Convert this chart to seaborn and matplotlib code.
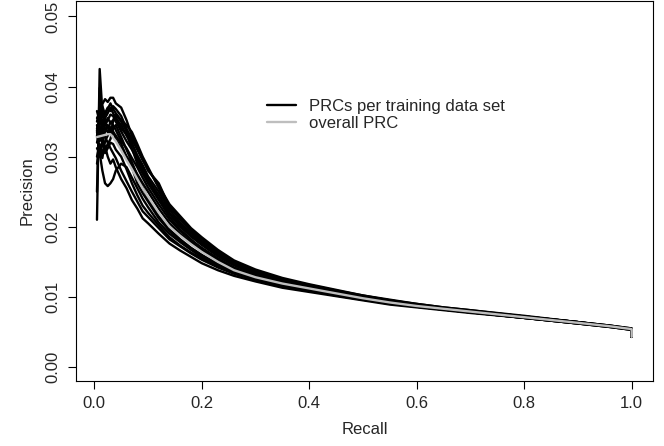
import numpy as np
import pandas as pd
import matplotlib
matplotlib.use("Agg")
import matplotlib.pyplot as plt
from matplotlib.lines import Line2D
import seaborn as sns

# recall grid shared by all curves (last point repeated for the final drop)
recall = [0.005, 0.01, 0.015, 0.02, 0.025, 0.03, 0.035, 0.04, 0.05, 0.06, 0.07, 0.08,
          0.09, 0.10, 0.12, 0.14, 0.16, 0.18, 0.20, 0.23, 0.26, 0.30, 0.35,
          0.40, 0.45, 0.50, 0.55, 0.60, 0.65, 0.70, 0.80, 0.90, 0.96, 1.00, 1.00]

# precision of each training data set
prc_1 = [0.0210, 0.0425, 0.0365, 0.0350, 0.0342, 0.0338, 0.0335, 0.0330, 0.0318, 0.0300, 0.0290, 0.0275,
         0.0262, 0.0250, 0.0226, 0.0205, 0.0190, 0.0178, 0.0167, 0.0152, 0.0140, 0.0130, 0.0120,
         0.0113, 0.0106, 0.0099, 0.0093, 0.0088, 0.0083, 0.0079, 0.0071, 0.0063, 0.0058, 0.0054, 0.0043]
prc_2 = [0.0250, 0.0398, 0.0330, 0.0345, 0.0352, 0.0360, 0.0358, 0.0350, 0.0336, 0.0322, 0.0310, 0.0296,
         0.0280, 0.0266, 0.0240, 0.0218, 0.0200, 0.0186, 0.0174, 0.0158, 0.0145, 0.0133, 0.0123,
         0.0115, 0.0107, 0.0100, 0.0094, 0.0089, 0.0084, 0.0080, 0.0072, 0.0064, 0.0058, 0.0054, 0.0043]
prc_3 = [0.0330, 0.0345, 0.0375, 0.0382, 0.0378, 0.0384, 0.0384, 0.0376, 0.0370, 0.0352, 0.0330, 0.0312,
         0.0296, 0.0280, 0.0262, 0.0228, 0.0212, 0.0196, 0.0183, 0.0165, 0.0150, 0.0137, 0.0125,
         0.0117, 0.0109, 0.0102, 0.0095, 0.0090, 0.0085, 0.0081, 0.0072, 0.0064, 0.0059, 0.0055, 0.0043]
prc_4 = [0.0312, 0.0305, 0.0280, 0.0262, 0.0258, 0.0262, 0.0268, 0.0280, 0.0290, 0.0285, 0.0270, 0.0255,
         0.0240, 0.0228, 0.0206, 0.0190, 0.0178, 0.0167, 0.0157, 0.0145, 0.0134, 0.0125, 0.0116,
         0.0110, 0.0103, 0.0097, 0.0091, 0.0086, 0.0082, 0.0078, 0.0070, 0.0062, 0.0058, 0.0054, 0.0043]
prc_5 = [0.0300, 0.0318, 0.0305, 0.0315, 0.0300, 0.0290, 0.0296, 0.0285, 0.0268, 0.0255, 0.0238, 0.0226,
         0.0212, 0.0205, 0.0190, 0.0176, 0.0166, 0.0157, 0.0148, 0.0138, 0.0130, 0.0122, 0.0113,
         0.0107, 0.0101, 0.0095, 0.0089, 0.0085, 0.0081, 0.0077, 0.0070, 0.0062, 0.0057, 0.0053, 0.0043]
prc_6 = [0.0340, 0.0355, 0.0348, 0.0362, 0.0370, 0.0365, 0.0372, 0.0368, 0.0358, 0.0340, 0.0325, 0.0310,
         0.0295, 0.0282, 0.0258, 0.0232, 0.0215, 0.0198, 0.0185, 0.0167, 0.0152, 0.0139, 0.0127,
         0.0118, 0.0110, 0.0102, 0.0096, 0.0090, 0.0085, 0.0081, 0.0073, 0.0064, 0.0059, 0.0055, 0.0044]
prc_7 = [0.0320, 0.0338, 0.0325, 0.0310, 0.0318, 0.0325, 0.0340, 0.0345, 0.0328, 0.0310, 0.0292, 0.0272,
         0.0256, 0.0240, 0.0215, 0.0196, 0.0182, 0.0170, 0.0160, 0.0147, 0.0136, 0.0126, 0.0117,
         0.0111, 0.0104, 0.0097, 0.0091, 0.0086, 0.0082, 0.0078, 0.0070, 0.0063, 0.0058, 0.0054, 0.0043]
prc_8 = [0.0345, 0.0330, 0.0352, 0.0340, 0.0335, 0.0350, 0.0345, 0.0338, 0.0322, 0.0312, 0.0298, 0.0285,
         0.0270, 0.0256, 0.0232, 0.0210, 0.0194, 0.0181, 0.0170, 0.0155, 0.0142, 0.0131, 0.0121,
         0.0114, 0.0106, 0.0099, 0.0093, 0.0088, 0.0083, 0.0079, 0.0071, 0.0063, 0.0058, 0.0054, 0.0043]
prc_9 = [0.0335, 0.0322, 0.0338, 0.0328, 0.0320, 0.0312, 0.0305, 0.0298, 0.0280, 0.0265, 0.0250, 0.0236,
         0.0222, 0.0214, 0.0198, 0.0182, 0.0172, 0.0162, 0.0153, 0.0142, 0.0133, 0.0124, 0.0115,
         0.0109, 0.0102, 0.0096, 0.0090, 0.0086, 0.0082, 0.0078, 0.0070, 0.0062, 0.0057, 0.0053, 0.0043]
prc_10 = [0.0355, 0.0362, 0.0340, 0.0355, 0.0362, 0.0370, 0.0362, 0.0355, 0.0345, 0.0330, 0.0318, 0.0302,
          0.0288, 0.0272, 0.0250, 0.0224, 0.0206, 0.0191, 0.0178, 0.0161, 0.0147, 0.0135, 0.0124,
          0.0116, 0.0108, 0.0101, 0.0095, 0.0089, 0.0084, 0.0080, 0.0072, 0.0064, 0.0059, 0.0054, 0.0043]
prc_11 = [0.0290, 0.0312, 0.0298, 0.0322, 0.0330, 0.0342, 0.0336, 0.0325, 0.0312, 0.0300, 0.0285, 0.0262,
          0.0248, 0.0236, 0.0212, 0.0194, 0.0180, 0.0169, 0.0159, 0.0146, 0.0135, 0.0126, 0.0117,
          0.0111, 0.0104, 0.0098, 0.0092, 0.0087, 0.0082, 0.0078, 0.0071, 0.0063, 0.0058, 0.0054, 0.0043]
prc_12 = [0.0365, 0.0350, 0.0360, 0.0348, 0.0355, 0.0348, 0.0352, 0.0360, 0.0350, 0.0336, 0.0320, 0.0300,
          0.0284, 0.0268, 0.0245, 0.0220, 0.0203, 0.0188, 0.0176, 0.0160, 0.0146, 0.0134, 0.0123,
          0.0115, 0.0107, 0.0100, 0.0094, 0.0089, 0.0084, 0.0080, 0.0071, 0.0064, 0.0058, 0.0054, 0.0043]
prc_13 = [0.0328, 0.0342, 0.0318, 0.0336, 0.0345, 0.0332, 0.0350, 0.0356, 0.0340, 0.0332, 0.0312, 0.0290,
          0.0276, 0.0262, 0.0238, 0.0214, 0.0196, 0.0182, 0.0168, 0.0153, 0.0141, 0.0130, 0.0120,
          0.0112, 0.0105, 0.0098, 0.0092, 0.0087, 0.0083, 0.0079, 0.0071, 0.0063, 0.0058, 0.0054, 0.0043]
prc_14 = [0.0338, 0.0300, 0.0322, 0.0305, 0.0312, 0.0320, 0.0318, 0.0310, 0.0300, 0.0282, 0.0262, 0.0245,
          0.0230, 0.0220, 0.0202, 0.0185, 0.0173, 0.0163, 0.0155, 0.0143, 0.0134, 0.0125, 0.0116,
          0.0109, 0.0102, 0.0096, 0.0091, 0.0086, 0.0082, 0.0078, 0.0070, 0.0062, 0.0057, 0.0053, 0.0043]
prc_15 = [0.0350, 0.0368, 0.0372, 0.0360, 0.0368, 0.0376, 0.0368, 0.0362, 0.0352, 0.0345, 0.0335, 0.0318,
          0.0300, 0.0285, 0.0255, 0.0228, 0.0210, 0.0194, 0.0180, 0.0163, 0.0149, 0.0136, 0.0125,
          0.0116, 0.0108, 0.0101, 0.0095, 0.0089, 0.0084, 0.0080, 0.0072, 0.0064, 0.0058, 0.0054, 0.0043]

# overall precision-recall curve
prc_overall = [0.0328, 0.0329, 0.0330, 0.0331, 0.0332, 0.0332, 0.0327, 0.0322, 0.0309, 0.0295, 0.0282, 0.0268,
               0.0255, 0.0243, 0.0220, 0.0200, 0.0187, 0.0175, 0.0164, 0.0150, 0.0138, 0.0128, 0.0119,
               0.0112, 0.0105, 0.0098, 0.0092, 0.0087, 0.0083, 0.0079, 0.0071, 0.0063, 0.0058, 0.0054, 0.0043]

per_set = [prc_1, prc_2, prc_3, prc_4, prc_5, prc_6, prc_7, prc_8,
           prc_9, prc_10, prc_11, prc_12, prc_13, prc_14, prc_15]

rows = []
for i, prec in enumerate(per_set):
    for r, p in zip(recall, prec):
        rows.append({"set": i, "recall": r, "precision": p})
df = pd.DataFrame(rows)
df_all = pd.DataFrame({"recall": recall, "precision": prc_overall})

sns.set_style("white")
plt.rcParams["font.family"] = ["Liberation Sans", "DejaVu Sans"]
plt.rcParams["font.size"] = 12

fig = plt.figure(figsize=(6.64, 4.46), dpi=100)
ax = fig.add_axes([75.7 / 664, 1 - 381 / 446, (653.3 - 75.7) / 664, 380 / 446])

sns.lineplot(data=df, x="recall", y="precision", units="set", estimator=None,
             sort=False, color="black", linewidth=1.7, ax=ax)
sns.lineplot(data=df_all, x="recall", y="precision", estimator=None,
             sort=False, color="#BEBEBE", linewidth=1.7, ax=ax)

ax.set_xlim(-0.0346, 1.0402)
ax.set_ylim(-0.002, 0.0522)
ax.set_xticks([0.0, 0.2, 0.4, 0.6, 0.8, 1.0])
ax.set_xticklabels(["0.0", "0.2", "0.4", "0.6", "0.8", "1.0"])
ax.set_yticks([0.00, 0.01, 0.02, 0.03, 0.04, 0.05])
ax.set_yticklabels(["0.00", "0.01", "0.02", "0.03", "0.04", "0.05"], rotation=90, va="center")
ax.tick_params(axis="both", direction="out", length=5.8, width=0.8, color="black",
               labelsize=12, pad=5, left=True, bottom=True)
for s in ax.spines.values():
    s.set_visible(True)
    s.set_color("black")
    s.set_linewidth(0.8)
ax.set_xlabel("Recall", fontsize=12, labelpad=8)
ax.set_ylabel("Precision", fontsize=12, labelpad=8)

handles = [Line2D([], [], color="black", linewidth=1.7),
           Line2D([], [], color="#BEBEBE", linewidth=1.7)]
ax.legend(handles, ["PRCs per training data set", "overall PRC"], frameon=False,
          loc="upper left", bbox_to_anchor=(267 / 664, 1 - 99 / 446),
          bbox_transform=fig.transFigure, handlelength=1.75, handletextpad=0.75,
          labelspacing=0.1, borderpad=0, borderaxespad=0, fontsize=12)

fig.savefig("out.png", dpi=100)
